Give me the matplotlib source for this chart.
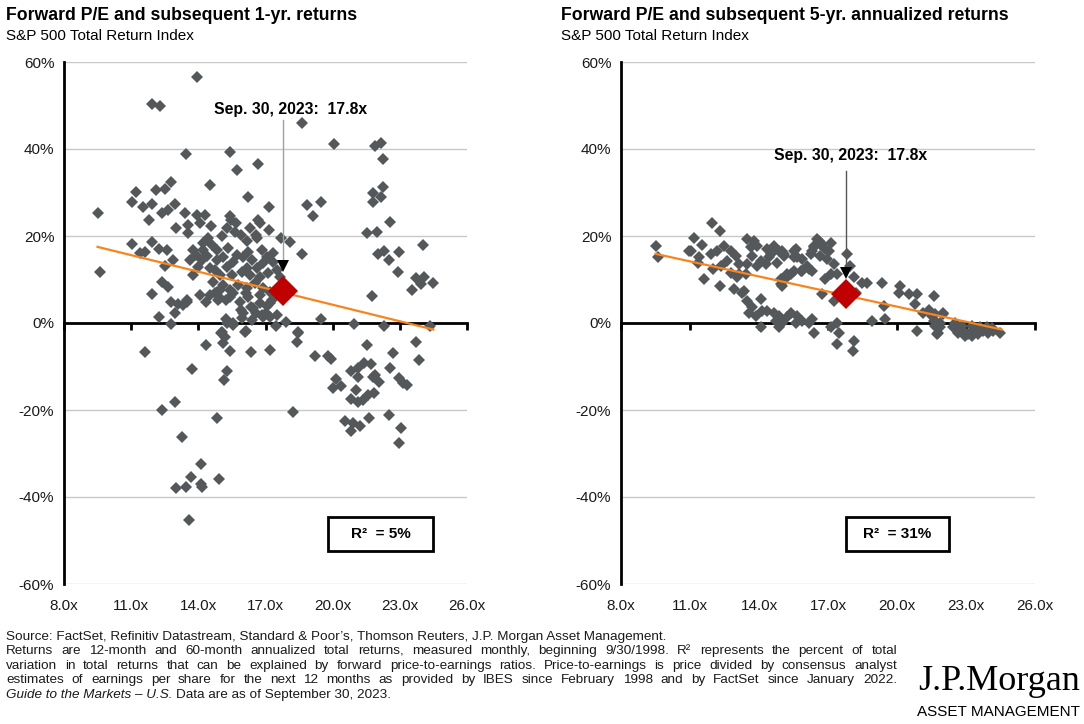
import matplotlib
matplotlib.use('Agg')
import matplotlib.pyplot as plt
from matplotlib.patches import Rectangle

plt.rcParams['font.family'] = ['Liberation Sans', 'DejaVu Sans']

# forward P/E vs subsequent 1-yr return (%)
pe_1yr = [13.96, 11.91, 12.28, 18.62, 20.08, 21.87, 22.16, 22.24, 13.44, 15.40, 16.66, 15.73,
          14.51, 12.80, 12.50, 12.13, 11.20, 11.02, 11.54, 11.91, 9.53, 12.95, 12.65, 12.36,
          11.80, 13.39, 16.22, 17.16, 13.92, 14.29, 13.54, 14.06, 14.58, 15.40, 15.70, 15.47,
          16.66, 16.74, 13.02, 13.54, 17.16, 16.29, 15.92, 16.59, 17.71, 18.08, 18.86, 19.49,
          19.11, 21.79, 22.24, 22.16, 21.79, 22.58, 21.52, 21.98, 22.02, 22.31, 22.53, 22.98,
          22.93, 24.02, 23.72, 24.09, 23.95, 24.46, 23.53, 21.74, 18.62, 19.49, 20.97, 22.31,
          24.36, 17.93, 17.48, 11.05, 11.39, 11.61, 9.63, 11.95, 12.25, 12.58, 12.87, 12.50,
          12.36, 12.65, 11.95, 12.80, 13.10, 13.50, 12.95, 12.24, 12.80, 14.36, 14.73, 14.95,
          15.25, 14.88, 15.55, 15.85, 16.14, 15.25, 15.55, 15.92, 16.14, 16.37, 16.59, 16.89,
          17.18, 17.04,
          15.26, 15.63, 14.44, 14.59, 15.04, 16.60, 16.16, 13.77, 14.22, 14.15, 13.63, 14.00,
          14.52, 14.82, 15.11, 14.82, 15.33, 15.71, 15.56, 16.00, 16.23, 16.38, 16.83, 17.05,
          17.34, 16.90, 16.60, 16.16, 15.26, 14.74, 14.96, 15.49, 15.93, 16.30, 16.75, 17.12,
          17.50, 17.64, 17.34, 14.67, 15.11, 14.82, 14.52, 14.96, 15.41, 15.78, 16.16, 16.53,
          16.90, 17.20, 16.75, 16.23, 15.41, 16.75, 17.05, 17.27, 16.45, 16.00, 15.93, 16.38,
          16.83, 17.20, 17.50, 15.26, 18.46, 15.04, 15.56, 14.07, 13.48, 13.33, 13.77, 14.20,
          13.90, 14.40,
          15.03, 15.18, 15.10, 15.40, 14.36, 16.10, 16.37, 17.22, 18.45, 18.40, 11.61, 13.72,
          15.28, 15.15, 19.19, 19.78, 19.93, 21.52, 22.68, 23.72, 23.84, 21.42, 21.72, 21.12,
          20.83, 21.15, 21.87, 21.79, 22.09, 22.58, 22.98, 23.13, 23.30, 20.13, 20.00, 20.38,
          21.02, 20.80, 21.12, 21.34, 21.57, 21.83, 22.53, 23.05, 22.98, 20.53, 20.90, 21.20,
          20.83, 21.64, 18.23, 14.85, 12.36, 12.95, 13.29, 14.14, 13.69, 13.02, 13.47, 14.14,
          14.18, 14.91, 13.57]
ret_1yr = [56.6, 50.3, 50.0, 45.9, 41.1, 40.8, 41.4, 37.7, 38.8, 39.4, 36.5, 35.2,
           31.7, 32.5, 30.9, 30.6, 30.2, 27.9, 26.7, 27.4, 25.4, 27.4, 26.0, 25.2,
           23.7, 25.4, 28.9, 26.6, 24.8, 24.8, 22.5, 22.9, 22.3, 24.6, 22.9, 23.7,
           23.7, 22.9, 21.8, 20.6, 21.4, 21.8, 20.2, 20.2, 19.5, 18.7, 27.1, 27.9,
           24.6, 30.0, 31.3, 28.9, 27.9, 23.3, 20.8, 21.0, 15.9, 16.6, 14.5, 16.3,
           11.7, 17.9, 10.3, 10.6, 8.9, 9.3, 7.6, 6.3, 15.8, 0.9, -0.3, -0.6,
           -0.6, 0.3, -0.7, 18.1, 16.0, 16.3, 11.8, 18.7, 17.0, 16.8, 14.5, 13.1,
           9.5, 8.3, 6.6, 4.9, 4.4, 5.3, 2.2, 1.3, -0.3, 4.9, 6.8, 7.6,
           5.4, 5.4, 6.8, 4.9, 6.8, 0.9, -0.5, 3.0, -1.8, 3.7, 2.2, 1.4,
           4.5, 2.2,
           21.8, 21.0, 19.5, 17.9, 20.0, 19.5, 18.9, 16.8, 16.8, 14.5, 14.5, 12.9,
           12.6, 16.8, 15.2, 14.5, 17.2, 15.6, 14.1, 15.2, 16.4, 14.5, 16.8, 15.2,
           14.1, 13.7, 12.6, 12.6, 12.9, 12.2, 11.0, 11.0, 11.8, 11.0, 10.6, 11.4,
           12.2, 10.6, 16.0, 9.5, 8.7, 7.2, 6.4, 5.7, 7.6, 8.7, 8.0, 9.1,
           8.0, 7.2, 6.4, 6.0, 6.0, 4.5, 3.8, 5.3, 3.4, 2.2, 1.1, 0.7,
           1.8, 1.4, 1.8, -0.1, -2.0, -2.0, -0.1, 6.4, 4.9, 4.1, 11.0, 18.3,
           15.6, 15.3,
           -2.2, -3.3, -4.5, -6.4, -5.1, -2.0, -6.7, -6.2, -2.2, -4.3, -6.7, -10.6,
           -11.0, -13.1, -7.6, -7.7, -8.3, -5.1, -6.8, -4.3, -8.5, -9.1, -9.4, -10.4,
           -11.0, -12.5, -12.0, -12.5, -13.6, -10.4, -12.7, -13.9, -14.3, -12.9, -15.0, -14.5,
           -15.4, -17.5, -18.1, -17.7, -16.6, -16.0, -21.1, -24.2, -27.7, -22.5, -23.1, -23.7,
           -24.8, -21.9, -20.5, -21.9, -20.0, -18.2, -26.1, -32.4, -35.3, -38.0, -37.6, -37.1,
           -37.6, -35.9, -45.3]

# forward P/E vs subsequent 5-yr annualized return (%)
pe_5yr = [9.52, 9.62, 11.95, 12.31, 11.18, 11.50, 11.04, 11.40, 11.35, 11.61, 12.31, 11.90,
          12.19, 12.48, 12.77, 12.99, 12.63, 12.34, 11.98, 13.13, 13.49, 13.42, 13.13, 12.77,
          13.06, 13.46, 13.78, 13.90, 13.71, 14.07, 14.36, 14.65, 14.43, 14.29, 13.93, 14.80,
          15.01, 15.08, 15.59, 15.52, 15.88, 16.10, 16.31, 15.81, 15.37, 15.23, 14.94, 15.01,
          16.38, 16.60, 16.75, 17.11, 16.89, 16.31, 16.67, 16.96, 17.25, 17.11, 16.89, 17.40,
          16.75, 17.25, 17.83, 17.97, 18.12, 18.48, 18.70, 19.35, 20.14, 20.07, 20.50, 20.87,
          20.79, 21.59, 19.42, 19.49, 18.91, 17.40, 17.11, 17.47, 17.40, 18.12, 18.07, 20.87,
          21.15, 21.52, 21.66, 21.88, 22.02, 21.73,
          13.49, 13.71, 13.56, 13.85, 14.07, 14.14, 14.07, 14.36, 14.65, 14.86, 14.72, 15.01,
          15.23, 15.37, 15.66, 15.59, 15.88, 16.17, 16.31, 16.38, 14.86, 13.35, 12.91, 13.28,
          10.96, 13.64, 14.50, 14.86, 15.08, 15.52, 15.66, 14.94, 15.23, 15.52, 15.88, 16.17,
          16.53, 16.67, 17.04, 16.38, 16.24, 18.23, 21.37, 21.66, 22.02, 21.88, 21.66, 21.80,
          21.59, 22.45, 22.67, 22.89, 23.10, 23.32, 23.54, 23.76, 23.97, 24.19, 24.48, 22.53,
          22.82, 23.25, 23.61, 23.90, 24.12, 22.96, 23.25]
ret_5yr = [17.8, 15.1, 23.1, 21.2, 19.5, 18.0, 16.6, 15.2, 13.7, 10.1, 8.4, 15.9,
           16.6, 17.8, 16.6, 15.5, 14.3, 13.2, 12.4, 13.6, 13.6, 11.3, 11.3, 11.6,
           10.5, 19.3, 18.9, 17.8, 15.5, 14.3, 17.0, 17.8, 15.1, 13.6, 13.2, 13.9,
           16.6, 15.5, 17.0, 15.1, 14.7, 13.2, 12.0, 12.0, 11.3, 10.5, 10.1, 8.6,
           17.8, 18.9, 18.2, 18.5, 17.0, 16.6, 15.5, 14.7, 13.6, 11.3, 10.1, 11.3,
           6.7, 5.1, 15.9, 13.2, 10.5, 9.3, 9.3, 9.3, 8.6, 7.0, 6.7, 6.7,
           4.4, 6.1, 4.0, 0.9, 0.5, 0.1, -1.0, -2.2, -4.8, -4.2, -6.5, -1.8,
           2.4, 1.7, 0.5, -1.0, 2.1, -2.5,
           5.1, 3.6, 2.4, 1.7, 5.5, 2.8, -1.0, 2.8, 2.4, 1.7, 0.5, 0.1,
           1.3, 2.4, 1.7, 0.1, 0.5, 0.1, 0.9, -2.2, -0.9, 7.4, 7.8, 7.0,
           16.6, 17.4, 15.9, 16.6, 15.9, 16.6, 15.1, 9.0, 11.3, 12.0, 12.0, 12.4,
           19.3, 18.2, 16.6, 17.4, 15.9, 7.0, 3.0, 2.1, 2.2, 0.1, -0.6, -2.2,
           0.5, -1.0, -2.2, -1.8, -2.5, -1.8, -2.5, -1.8, -2.2, -1.8, -2.2, 0.1,
           -0.6, -0.6, -1.0, -1.0, -1.2, -2.9, -3.1]

# regression lines as drawn in the source (endpoints)
trend_1yr_x = [9.5, 24.5]
trend_1yr_y = [17.5, -1.5]
trend_5yr_x = [9.5, 24.55]
trend_5yr_y = [15.9, -1.5]

current_pe = 17.8
current_1yr = 7.4
current_5yr = 6.7
current_label = 'Sep. 30, 2023:  17.8x'
r2_labels = ['R\u00b2  = 5%', 'R\u00b2  = 31%']

x_ticks = [8, 11, 14, 17, 20, 23, 26]
y_ticks = [-60, -40, -20, 0, 20, 40, 60]

grey = '#55585a'
orange = '#f7841e'
red = '#c00000'

W, H = 1084, 724
fig = plt.figure(figsize=(W / 100, H / 100), dpi=100)
ax1 = fig.add_axes([64 / W, 1 - 584 / H, (467 - 64) / W, (584 - 62) / H])
ax2 = fig.add_axes([621 / W, 1 - 584 / H, (1035 - 621) / W, (584 - 62) / H])


def style(ax):
    ax.set_xlim(8, 26)
    ax.set_ylim(-60, 60)
    ax.spines['top'].set_visible(False)
    ax.spines['right'].set_visible(False)
    ax.spines['left'].set_linewidth(2)
    ax.spines['bottom'].set_position(('data', 0))
    ax.spines['bottom'].set_linewidth(2)
    ax.set_xticks(x_ticks)
    ax.tick_params(axis='x', direction='out', length=5, width=2, labelbottom=False)
    ax.set_yticks(y_ticks)
    ax.set_yticklabels([f'{v}%' for v in y_ticks])
    ax.tick_params(axis='y', length=0, pad=7, labelsize=11, labelcolor='#1a1a1a')
    ax.yaxis.grid(True, color='#c8c8c8', lw=1)
    ax.set_axisbelow(True)
    sec = ax.secondary_xaxis('bottom')
    sec.set_xticks(x_ticks, labels=[f'{v:.1f}x' for v in x_ticks])
    sec.spines['bottom'].set_visible(False)
    sec.tick_params(length=0, pad=11, labelsize=11, labelcolor='#1a1a1a')


for ax in (ax1, ax2):
    style(ax)

ax1.plot(pe_1yr, ret_1yr, 'D', color=grey, ms=6, mew=0, zorder=3)
ax1.plot(trend_1yr_x, trend_1yr_y, color=orange, lw=1.6, zorder=4)
ax1.plot(current_pe, current_1yr, 'D', color=red, ms=15, mew=0, zorder=5)

ax2.plot(pe_5yr, ret_5yr, 'D', color=grey, ms=6, mew=0, zorder=3)
ax2.plot(trend_5yr_x, trend_5yr_y, color=orange, lw=1.6, zorder=4)
ax2.plot(current_pe, current_5yr, 'D', color=red, ms=15, mew=0, zorder=5)

# annotation: label, leader line and arrow head (positions in axis units)
for ax, tx, ty, top, tip, lc in ((ax1, 18.1, 49.0, 46.7, 12.2, '#a0a0a0'),
                                 (ax2, 18.0, 38.5, 35.0, 10.4, '#555555')):
    ax.text(tx, ty, current_label, ha='center', va='center',
            fontsize=11.3, fontweight='bold', color='black', zorder=6)
    ax.plot([current_pe, current_pe], [top, tip + 1], color=lc, lw=1, zorder=6)
    ax.plot(current_pe, tip + 1, 'v', color='black', ms=8, mew=0, zorder=6)

# R-squared boxes
for ax, lab, x0, x1 in ((ax1, r2_labels[0], 19.8, 24.5), (ax2, r2_labels[1], 17.8, 22.25)):
    ax.add_patch(Rectangle((x0, -52.4), x1 - x0, 7.8, fill=False, ec='black', lw=2, zorder=6))
    ax.text((x0 + x1) / 2, -48.5, lab, ha='center', va='center', fontsize=11,
            fontweight='bold', zorder=7)

# titles
fig.text(6 / W, 1 - 16 / H, 'Forward P/E and subsequent 1-yr. returns', fontsize=12.7,
         fontweight='bold', va='center')
fig.text(6 / W, 1 - 36 / H, 'S&P 500 Total Return Index', fontsize=11, va='center')
fig.text(561 / W, 1 - 16 / H, 'Forward P/E and subsequent 5-yr. annualized returns',
         fontsize=12.7, fontweight='bold', va='center')
fig.text(561 / W, 1 - 36 / H, 'S&P 500 Total Return Index', fontsize=11, va='center')

# footnotes
fs = 9.7
ink = '#1a1a1a'
renderer = fig.canvas.get_renderer()
foot = [
    "Source: FactSet, Refinitiv Datastream, Standard & Poor\u2019s, Thomson Reuters, J.P. Morgan Asset Management.",
    "Returns are 12-month and 60-month annualized total returns, measured monthly, beginning 9/30/1998. R\u00b2 represents the percent of total",
    "variation in total returns that can be explained by forward price-to-earnings ratios. Price-to-earnings is price divided by consensus analyst",
    "estimates of earnings per share for the next 12 months as provided by IBES since February 1998 and by FactSet since January 2022.",
]
left_px, right_px = 6, 897
fig.text(left_px / W, 1 - 637 / H, foot[0], fontsize=fs, va='center', color=ink)
for i, line in enumerate(foot[1:], start=1):
    y = 1 - (637 + i * 14.4) / H
    words = line.split(' ')
    pieces = [fig.text(0, y, w, fontsize=fs, va='center', color=ink) for w in words]
    widths = [p.get_window_extent(renderer).width for p in pieces]
    gap = (right_px - left_px - sum(widths)) / (len(words) - 1)
    x = left_px
    for p, w in zip(pieces, widths):
        p.set_x(x / W)
        x += w + gap
t = fig.text(left_px / W, 1 - 694.6 / H, 'Guide to the Markets \u2013 U.S.', fontsize=fs,
             style='italic', va='center', color=ink)
bb = t.get_window_extent(renderer)
fig.text((bb.x1 + 3) / W, 1 - 694.6 / H, 'Data are as of September 30, 2023.',
         fontsize=fs, va='center', color=ink)

# logo
fig.text(1080 / W, 1 - 681 / H, 'J.P.Morgan', fontsize=26, family=['Liberation Serif'],
         ha='right', va='center', color='black')
fig.text(1080 / W, 1 - 712 / H, 'ASSET MANAGEMENT', fontsize=11,
         ha='right', va='center', color='black')

fig.savefig('out.png', dpi=100)
